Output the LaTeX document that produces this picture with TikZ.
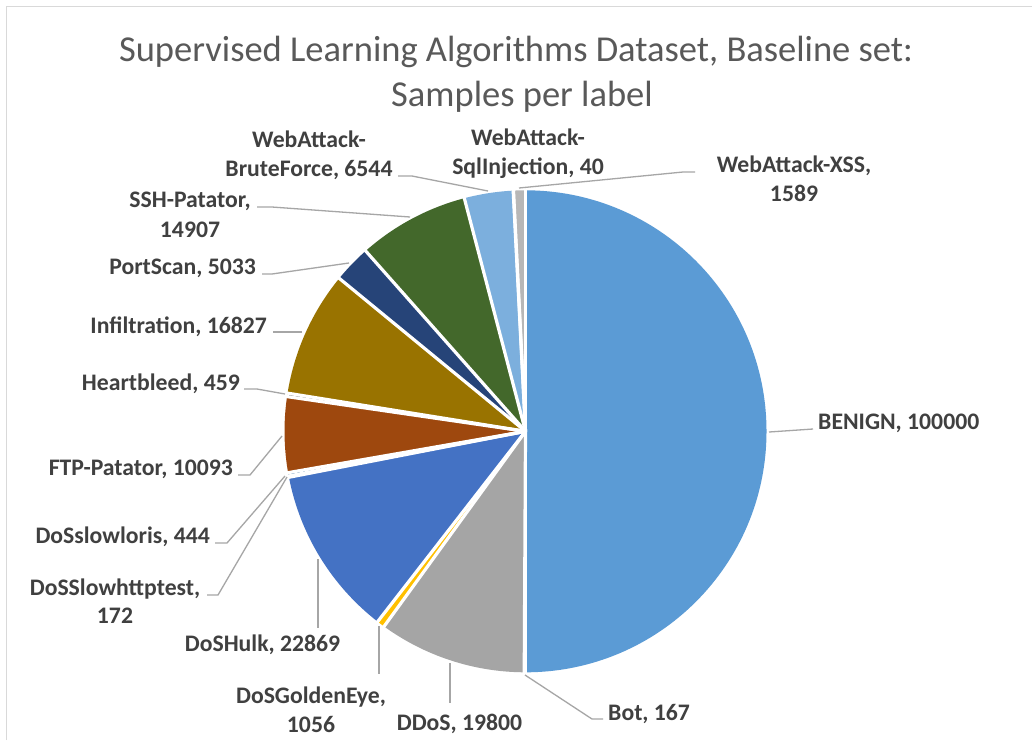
\documentclass[tikz,border=0pt]{standalone}
\usepackage{fontspec}
\setmainfont{Carlito}
\definecolor{cBenign}{HTML}{5B9BD5}
\definecolor{cBot}{HTML}{ED7D31}
\definecolor{cDDoS}{HTML}{A5A5A5}
\definecolor{cGolden}{HTML}{FFC000}
\definecolor{cHulk}{HTML}{4472C4}
\definecolor{cSlowhttp}{HTML}{70AD47}
\definecolor{cSlowloris}{HTML}{255E91}
\definecolor{cFTP}{HTML}{9E480E}
\definecolor{cHeart}{HTML}{636363}
\definecolor{cInfil}{HTML}{997300}
\definecolor{cPort}{HTML}{264478}
\definecolor{cSSH}{HTML}{43682B}
\definecolor{cBrute}{HTML}{7CAFDD}
\definecolor{cSql}{HTML}{F1975A}
\definecolor{cXSS}{HTML}{B7B7B7}
\definecolor{labelgray}{HTML}{404040}
\definecolor{titlegray}{HTML}{595959}
\definecolor{leadergray}{HTML}{A6A6A6}
\definecolor{framegray}{HTML}{D9D9D9}
\newcommand{\pieslice}[3]{\fill[#3] (C) -- ++(#1:241) arc[start angle=#1, end angle=#2, radius=241] -- cycle;}
\newcommand{\piecut}[1]{\draw[cut] (C) -- ++(#1:244);}
\begin{document}
\begin{tikzpicture}[x=1pt,y=-1pt,
  lbl/.style={font=\fontsize{23.7}{29}\selectfont\bfseries, text=labelgray, inner sep=0pt},
  ttl/.style={font=\fontsize{36.5}{44}\selectfont, text=titlegray, inner sep=0pt},
  leader/.style={draw=leadergray, line width=1.3pt, line join=round},
  cut/.style={draw=white, line width=3.2pt, line cap=round}]
\useasboundingbox (0,0) rectangle (1032,740);
\fill[white] (0,0) rectangle (1032,740);
\draw[framegray, line width=1pt] (6,740) -- (6,6) -- (1032,6);

% title
\node[ttl, anchor=base] (t1) at (516,61) {Supervised Learning Algorithms Dataset, Baseline set:};
\node[ttl, anchor=base] (t2) at (522,106) {Samples per label};

% pie
\coordinate (C) at (525.5,431.3);
\pieslice{-90}{90}{cBenign}
\pieslice{90}{90.3006}{cBot}
\pieslice{90.3006}{125.9406}{cDDoS}
\pieslice{125.9406}{127.8414}{cGolden}
\pieslice{127.8414}{169.0056}{cHulk}
\pieslice{169.0056}{169.3152}{cSlowhttp}
\pieslice{169.3152}{170.1144}{cSlowloris}
\pieslice{170.1144}{188.2818}{cFTP}
\pieslice{188.2818}{189.108}{cHeart}
\pieslice{189.108}{219.3966}{cInfil}
\pieslice{219.3966}{228.456}{cPort}
\pieslice{228.456}{255.2886}{cSSH}
\pieslice{255.2886}{267.0678}{cBrute}
\pieslice{267.0678}{267.1398}{cSql}
\pieslice{267.1398}{270}{cXSS}
\foreach \a in {-90,90,90.3006,125.9406,127.8414,169.0056,169.3152,170.1144,188.2818,189.108,219.3966,228.456,255.2886,267.0678,267.1398}{\piecut{\a}}

% labels
\node[lbl, anchor=base west] (ben) at (818,429) {BENIGN, 100000};
\node[lbl, anchor=base west] (bot) at (608,720) {Bot, 167};
\node[lbl, anchor=base] (ddos) at (459.5,730) {DDoS, 19800};
\node[lbl, anchor=base] (ge1) at (311,703) {DoSGoldenEye,};
\node[lbl, anchor=base] (ge2) at (311,732) {1056};
\node[lbl, anchor=base] (hulk) at (262.5,651) {DoSHulk, 22869};
\node[lbl, anchor=base] (sh1) at (115,595) {DoSSlowhttptest,};
\node[lbl, anchor=base] (sh2) at (115,623) {172};
\node[lbl, anchor=base east] (sl) at (210,543) {DoSslowloris, 444};
\node[lbl, anchor=base east] (ftp) at (233,475) {FTP-Patator, 10093};
\node[lbl, anchor=base east] (hb) at (240,390) {Heartbleed, 459};
\node[lbl, anchor=base east] (inf) at (267,333) {Infiltration, 16827};
\node[lbl, anchor=base east] (ps) at (256,274) {PortScan, 5033};
\node[lbl, anchor=base] (ssh1) at (190,207) {SSH-Patator,};
\node[lbl, anchor=base] (ssh2) at (190,237) {14907};
\node[lbl, anchor=base] (bf1) at (309,147) {WebAttack-};
\node[lbl, anchor=base] (bf2) at (309,176) {BruteForce, 6544};
\node[lbl, anchor=base] (sq1) at (528,145) {WebAttack-};
\node[lbl, anchor=base] (sq2) at (528,174) {SqlInjection, 40};
\node[lbl, anchor=base] (xs1) at (794,172) {WebAttack-XSS,};
\node[lbl, anchor=base] (xs2) at (794,201) {1589};

% leader lines
\coordinate (benP) at (769,432); \coordinate (benL) at (813,429);
\coordinate (botP) at (525,675); \coordinate (botK) at (592,719); \coordinate (botL) at (603,719);
\coordinate (ddosP) at (450,663); \coordinate (ddosL) at (450,703);
\coordinate (geP) at (379,626); \coordinate (geL) at (379,674);
\coordinate (hulkP) at (318,559); \coordinate (hulkL) at (318,628);
\coordinate (shP) at (287,477); \coordinate (shK) at (218,595); \coordinate (shL) at (207,595);
\coordinate (slP) at (285,476); \coordinate (slK) at (227,543); \coordinate (slL) at (215,543);
\coordinate (ftpP) at (282,436); \coordinate (ftpK) at (250,475); \coordinate (ftpL) at (238,475);
\coordinate (hbP) at (285,394); \coordinate (hbK) at (257,389); \coordinate (hbL) at (244,389);
\coordinate (infP) at (302,332); \coordinate (infL) at (273,332);
\coordinate (psP) at (349,263); \coordinate (psK) at (272,274); \coordinate (psL) at (262,274);
\coordinate (sshP) at (410,217); \coordinate (sshK) at (272,207); \coordinate (sshL) at (257,207);
\coordinate (bfP) at (488,191); \coordinate (bfK) at (412,176); \coordinate (bfL) at (398,176);
\coordinate (xsP) at (519,188); \coordinate (xsK) at (683,172); \coordinate (xsL) at (695,172);

\draw[leader] (benP) -- (benL);
\draw[leader] (botP) -- (botK) -- (botL);
\draw[leader] (ddosP) -- (ddosL);
\draw[leader] (geP) -- (geL);
\draw[leader] (hulkP) -- (hulkL);
\draw[leader] (shP) -- (shK) -- (shL);
\draw[leader] (slP) -- (slK) -- (slL);
\draw[leader] (ftpP) -- (ftpK) -- (ftpL);
\draw[leader] (hbP) -- (hbK) -- (hbL);
\draw[leader] (infP) -- (infL);
\draw[leader] (psP) -- (psK) -- (psL);
\draw[leader] (sshP) -- (sshK) -- (sshL);
\draw[leader] (bfP) -- (bfK) -- (bfL);
\draw[leader] (xsP) -- (xsK) -- (xsL);
\end{tikzpicture}
\end{document}
